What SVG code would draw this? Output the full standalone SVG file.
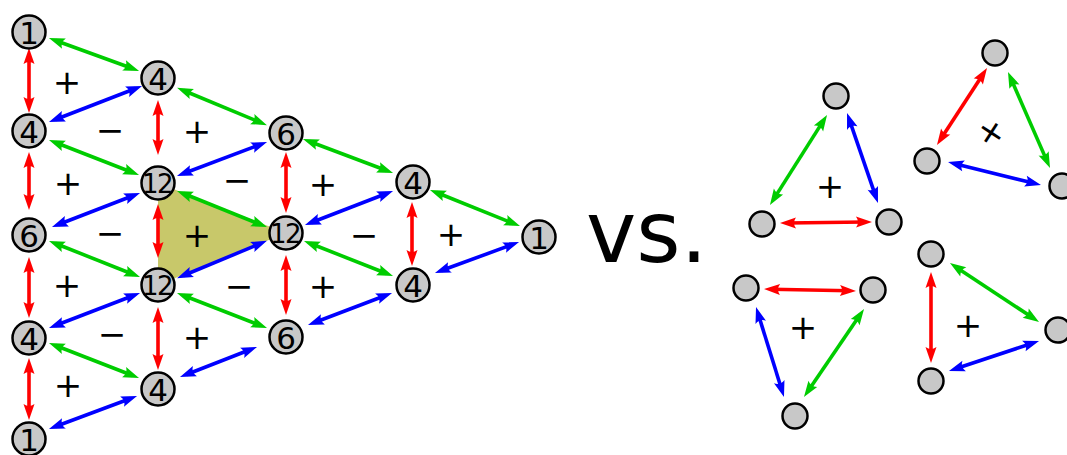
<svg xmlns="http://www.w3.org/2000/svg" width="1067" height="455" viewBox="0 0 1067 455">
<style>
.n{fill:#c8c8c8;stroke:#000;stroke-width:2.5}
.t{font-family:"DejaVu Sans",sans-serif;font-size:31px;text-anchor:middle;dominant-baseline:central;fill:#000}
.t12{font-size:26px;letter-spacing:-1.5px}
.s{font-family:"DejaVu Sans",sans-serif;font-size:34px;text-anchor:middle;dominant-baseline:central;fill:#000}
.r{stroke:#ff0000;stroke-width:3.6;fill:none;marker-start:url(#mr);marker-end:url(#mr)}
.g{stroke:#00cc00;stroke-width:3.6;fill:none;marker-start:url(#mg);marker-end:url(#mg)}
.b{stroke:#0000ff;stroke-width:3.6;fill:none;marker-start:url(#mb);marker-end:url(#mb)}
</style>
<defs>
<marker id="mr" markerUnits="userSpaceOnUse" orient="auto-start-reverse" refX="0" refY="0" markerWidth="30" markerHeight="30" viewBox="-15 -15 30 30" overflow="visible"><path d="M7,0 L-9,-5.5 Q-5,0 -9,5.5 Z" fill="#ff0000"/></marker>
<marker id="mg" markerUnits="userSpaceOnUse" orient="auto-start-reverse" refX="0" refY="0" markerWidth="30" markerHeight="30" viewBox="-15 -15 30 30" overflow="visible"><path d="M7,0 L-9,-5.5 Q-5,0 -9,5.5 Z" fill="#00cc00"/></marker>
<marker id="mb" markerUnits="userSpaceOnUse" orient="auto-start-reverse" refX="0" refY="0" markerWidth="30" markerHeight="30" viewBox="-15 -15 30 30" overflow="visible"><path d="M7,0 L-9,-5.5 Q-5,0 -9,5.5 Z" fill="#0000ff"/></marker>
</defs>
<rect width="1067" height="455" fill="#fff"/>
<polygon id="highlight" points="158,183 286,233 158,285" fill="#c8c86a"/>
<g id="connectors">
<line class="r" x1="29" y1="55" x2="29" y2="106"/>
<line class="r" x1="29" y1="159" x2="29" y2="203"/>
<line class="r" x1="29" y1="264" x2="29" y2="311"/>
<line class="r" x1="29" y1="365" x2="29" y2="413"/>
<line class="r" x1="158" y1="107" x2="158" y2="148"/>
<line class="r" x1="158" y1="211" x2="158" y2="251"/>
<line class="r" x1="158" y1="314" x2="158" y2="363"/>
<line class="r" x1="286" y1="159" x2="286" y2="206"/>
<line class="r" x1="286" y1="262" x2="286" y2="308"/>
<line class="r" x1="412" y1="209" x2="412" y2="259"/>
<line class="g" x1="55.5" y1="40.5" x2="132.5" y2="68.5"/>
<line class="g" x1="55.5" y1="142.5" x2="132.5" y2="172.5"/>
<line class="g" x1="55.5" y1="243.5" x2="133.5" y2="274.5"/>
<line class="g" x1="55.5" y1="345.5" x2="132.5" y2="375.5"/>
<line class="g" x1="183.5" y1="90.5" x2="260.5" y2="122.5"/>
<line class="g" x1="183.5" y1="193.5" x2="260.5" y2="224.5"/>
<line class="g" x1="183.5" y1="295.5" x2="260.5" y2="325.5"/>
<line class="g" x1="309.5" y1="141.5" x2="386.5" y2="170.5"/>
<line class="g" x1="310.5" y1="243.5" x2="386.5" y2="273.5"/>
<line class="g" x1="436.5" y1="192.5" x2="513.5" y2="223.5"/>
<line class="b" x1="55.5" y1="119.5" x2="135.5" y2="88.5"/>
<line class="b" x1="58.5" y1="224.5" x2="133.5" y2="195.5"/>
<line class="b" x1="55.5" y1="325.5" x2="133.5" y2="295.5"/>
<line class="b" x1="55.5" y1="426.5" x2="130.5" y2="398.5"/>
<line class="b" x1="183.5" y1="173.5" x2="260.5" y2="144.5"/>
<line class="b" x1="183.5" y1="275.5" x2="260.5" y2="243.5"/>
<line class="b" x1="186.5" y1="374.5" x2="250.5" y2="349.5"/>
<line class="b" x1="311.5" y1="222.5" x2="386.5" y2="193.5"/>
<line class="b" x1="314.5" y1="322.5" x2="385.5" y2="295.5"/>
<line class="b" x1="441.5" y1="270.5" x2="512.5" y2="244.5"/>
<line class="g" x1="823.3" y1="120.9" x2="773.7" y2="199.1"/>
<line class="b" x1="849.3" y1="119.6" x2="875.7" y2="196.4"/>
<line class="r" x1="787" y1="223" x2="865" y2="222"/>
<line class="r" x1="983.2" y1="73.9" x2="940.8" y2="139.1"/>
<line class="g" x1="1010.8" y1="78.4" x2="1047.2" y2="161.6"/>
<line class="b" x1="954.8" y1="163.7" x2="1034.2" y2="183.3"/>
<line class="r" x1="771" y1="289.2" x2="849" y2="290.8"/>
<line class="b" x1="758.1" y1="313.7" x2="781.9" y2="390.3"/>
<line class="g" x1="860.1" y1="314.8" x2="807.9" y2="391.2"/>
<line class="r" x1="931" y1="279" x2="931" y2="356"/>
<line class="g" x1="955.8" y1="266.9" x2="1033.2" y2="318.1"/>
<line class="b" x1="955.6" y1="368.8" x2="1032.4" y2="343.2"/>
</g>
<g id="A0"><circle class="n" cx="29" cy="32" r="16.5"/><text class="t" x="29" y="33">1</text></g>
<g id="A1"><circle class="n" cx="29" cy="131" r="16.5"/><text class="t" x="29" y="132">4</text></g>
<g id="A2"><circle class="n" cx="29" cy="235" r="16.5"/><text class="t" x="29" y="236">6</text></g>
<g id="A3"><circle class="n" cx="29" cy="338" r="16.5"/><text class="t" x="29" y="339">4</text></g>
<g id="A4"><circle class="n" cx="29" cy="439" r="16.5"/><text class="t" x="29" y="440">1</text></g>
<g id="B0"><circle class="n" cx="158" cy="78" r="16.5"/><text class="t" x="158" y="79">4</text></g>
<g id="B1"><circle class="n" cx="158" cy="183" r="16.5"/><text class="t t12" x="157" y="184">12</text></g>
<g id="B2"><circle class="n" cx="158" cy="285" r="16.5"/><text class="t t12" x="157" y="286">12</text></g>
<g id="B3"><circle class="n" cx="158" cy="389" r="16.5"/><text class="t" x="158" y="390">4</text></g>
<g id="C0"><circle class="n" cx="286" cy="133" r="16.5"/><text class="t" x="286" y="134">6</text></g>
<g id="C1"><circle class="n" cx="286" cy="233" r="16.5"/><text class="t t12" x="285" y="234">12</text></g>
<g id="C2"><circle class="n" cx="286" cy="337" r="16.5"/><text class="t" x="286" y="338">6</text></g>
<g id="D0"><circle class="n" cx="413" cy="182" r="16.5"/><text class="t" x="413" y="183">4</text></g>
<g id="D1"><circle class="n" cx="413" cy="285" r="16.5"/><text class="t" x="413" y="286">4</text></g>
<g id="E0"><circle class="n" cx="539" cy="237" r="16.5"/><text class="t" x="539" y="238">1</text></g>
<g id="signs">
<text class="s" x="67" y="82">+</text>
<text class="s" x="110" y="130">−</text>
<text class="s" x="197" y="131">+</text>
<text class="s" x="68" y="183">+</text>
<text class="s" x="237" y="180">−</text>
<text class="s" x="323" y="184">+</text>
<text class="s" x="110" y="233">−</text>
<text class="s" x="197" y="235">+</text>
<text class="s" x="364" y="235">−</text>
<text class="s" x="451" y="234">+</text>
<text class="s" x="67" y="285">+</text>
<text class="s" x="239" y="286">−</text>
<text class="s" x="323" y="286">+</text>
<text class="s" x="112" y="334">−</text>
<text class="s" x="197" y="337">+</text>
<text class="s" x="68" y="385">+</text>
<text class="s" x="830" y="186">+</text>
<text class="s" transform="translate(990,132) rotate(-57)" x="0" y="0">+</text>
<text class="s" x="803" y="327">+</text>
<text class="s" x="968" y="325">+</text>
</g>
<text id="vs" x="586" y="262" font-family="DejaVu Sans, sans-serif" font-size="85" fill="#000">vs.</text>
<g id="T1top"><circle class="n" cx="836" cy="96" r="12.5"/></g>
<g id="T1left"><circle class="n" cx="762" cy="224" r="12.5"/></g>
<g id="T1right"><circle class="n" cx="889" cy="222" r="12.5"/></g>
<g id="T2top"><circle class="n" cx="995" cy="53" r="12.5"/></g>
<g id="T2left"><circle class="n" cx="927" cy="161" r="12.5"/></g>
<g id="T2right"><circle class="n" cx="1062" cy="186" r="12.5"/></g>
<g id="T3left"><circle class="n" cx="746" cy="288" r="12.5"/></g>
<g id="T3right"><circle class="n" cx="873" cy="290" r="12.5"/></g>
<g id="T3bottom"><circle class="n" cx="795" cy="416" r="12.5"/></g>
<g id="T4top"><circle class="n" cx="931" cy="254" r="12.5"/></g>
<g id="T4bottom"><circle class="n" cx="931" cy="381" r="12.5"/></g>
<g id="T4right"><circle class="n" cx="1058" cy="330" r="12.5"/></g>
</svg>
